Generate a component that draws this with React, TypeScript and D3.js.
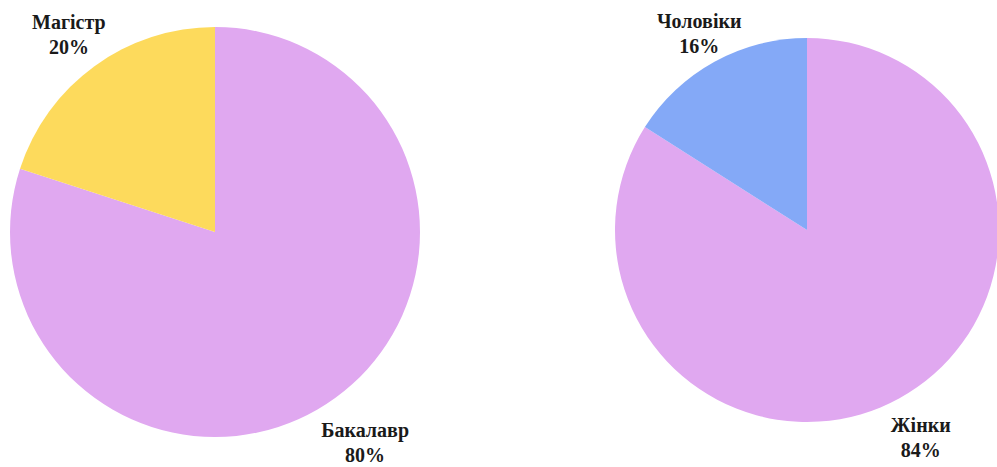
import { pie, arc, PieArcDatum } from "d3";

const degreeLabels = ["Бакалавр", "Магістр"];
const degreeValues = [80, 20];

const genderLabels = ["Жінки", "Чоловіки"];
const genderValues = [84, 16];

const W = 997;
const H = 467;

interface Slice {
  label: string;
  value: number;
}

interface PieProps {
  labels: string[];
  values: number[];
  colors: string[];
  cx: number;
  cy: number;
  r: number;
  labelR: number;
  shiftX: number;
  shiftY: number;
}

function PieChart({ labels, values, colors, cx, cy, r, labelR, shiftX, shiftY }: PieProps) {
  const data: Slice[] = labels.map((label, i) => ({ label, value: values[i] }));
  const arcs = pie<Slice>()
    .sort(null)
    .value((d) => d.value)(data);
  const arcFn = arc<PieArcDatum<Slice>>().innerRadius(0).outerRadius(r);
  const labelArc = arc<PieArcDatum<Slice>>().innerRadius(labelR).outerRadius(labelR);

  return (
    <g transform={`translate(${cx},${cy})`}>
      {arcs.map((a, i) => (
        <path key={a.data.label} d={arcFn(a) ?? ""} fill={colors[i]} />
      ))}
      {arcs.map((a) => {
        const [cx0, cy0] = labelArc.centroid(a);
        const lx = cx0 + shiftX;
        const ly = cy0 + shiftY;
        return (
          <text
            key={`t-${a.data.label}`}
            x={lx}
            y={ly}
            textAnchor="middle"
            style={{ fontFamily: "Liberation Serif, DejaVu Serif, serif" }}
            fontWeight="bold"
            fontSize={20}
            fill="#1a1a1a"
          >
            <tspan x={lx} dy={-4}>
              {a.data.label}
            </tspan>
            <tspan x={lx} dy={25}>
              {a.data.value}%
            </tspan>
          </text>
        );
      })}
    </g>
  );
}

export default function App() {
  return (
    <svg
      width={W}
      height={H}
      style={{ position: "absolute", left: 0, top: 0, background: "#fff" }}
    >
      <PieChart
        labels={degreeLabels}
        values={degreeValues}
        colors={["#e0a8f0", "#fdda5c"]}
        cx={215}
        cy={232}
        r={205}
        labelR={252}
        shiftX={2}
        shiftY={5}
      />
      <PieChart
        labels={genderLabels}
        values={genderValues}
        colors={["#e0a8f0", "#84a9f7"]}
        cx={807}
        cy={230}
        r={192}
        labelR={230}
        shiftX={3}
        shiftY={4}
      />
    </svg>
  );
}
